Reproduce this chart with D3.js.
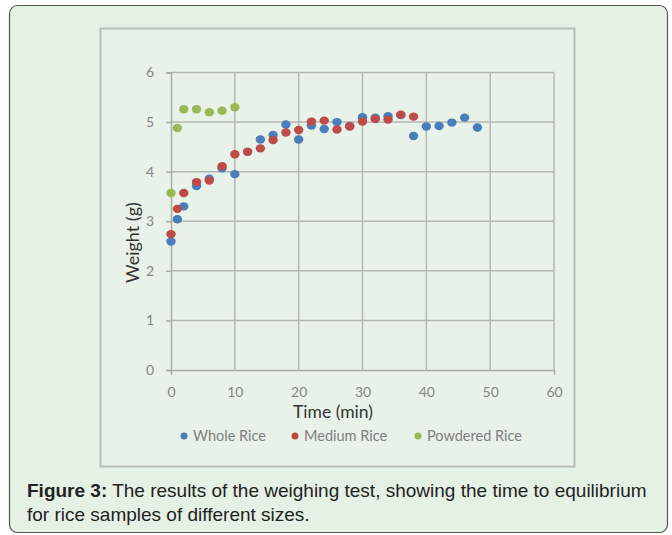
<!DOCTYPE html>
<html>
<head>
<meta charset="utf-8">
<script src="https://cdn.jsdelivr.net/npm/d3@7"></script>
<style>
  body { margin: 0; background: #fff; }
  svg { display: block; }
</style>
</head>
<body>
<script>
// weighing test data: time (min) vs weight (g)
const wholeTime = [0, 1, 2, 4, 6, 8, 10, 12, 14, 16, 18, 20, 22, 24, 26, 28, 30, 32, 34, 36, 38, 40, 42, 44, 46, 48];
const wholeWeight = [2.59, 3.04, 3.30, 3.71, 3.86, 4.07, 3.95, 4.40, 4.65, 4.74, 4.95, 4.65, 4.93, 4.86, 5.00, 4.92, 5.10, 5.09, 5.12, 5.14, 4.72, 4.91, 4.92, 4.99, 5.09, 4.89];
const mediumTime = [0, 1, 2, 4, 6, 8, 10, 12, 14, 16, 18, 20, 22, 24, 26, 28, 30, 32, 34, 36, 38];
const mediumWeight = [2.74, 3.25, 3.57, 3.79, 3.82, 4.11, 4.35, 4.40, 4.47, 4.64, 4.79, 4.84, 5.01, 5.03, 4.85, 4.91, 5.01, 5.06, 5.05, 5.15, 5.11];
const powderTime = [0, 1, 2, 4, 6, 8, 10];
const powderWeight = [3.57, 4.88, 5.26, 5.26, 5.20, 5.23, 5.30];

const seriesNames = ["Whole Rice", "Medium Rice", "Powdered Rice"];
const seriesColors = ["#4a7ebb", "#be4b48", "#98b954"];
const xTicks = [0, 10, 20, 30, 40, 50, 60];
const yTicks = [0, 1, 2, 3, 4, 5, 6];

const width = 672;
const height = 535;
const chartFont = "Lato, 'Open Sans', sans-serif";

const svg = d3.select("body").append("svg")
  .attr("width", width)
  .attr("height", height);

// outer panel
svg.append("rect")
  .attr("x", 9.5).attr("y", 5.5)
  .attr("width", 658).attr("height", 527)
  .attr("rx", 8)
  .attr("fill", "#e6f1e6")
  .attr("stroke", "#555")
  .attr("stroke-width", 1.2);

// chart frame
svg.append("rect")
  .attr("x", 100.5).attr("y", 28.5)
  .attr("width", 474).attr("height", 438)
  .attr("fill", "#e8f2e8")
  .attr("stroke", "#b8bcb6")
  .attr("stroke-width", 2);

const x = d3.scaleLinear().domain([0, 60]).range([171, 554]);
const y = d3.scaleLinear().domain([0, 6]).range([370, 72.5]);

// grid
svg.append("g").selectAll("line").data(yTicks.slice(1)).enter().append("line")
  .attr("x1", x(0)).attr("x2", x(60))
  .attr("y1", d => y(d)).attr("y2", d => y(d))
  .attr("stroke", "#b3b8b0").attr("stroke-width", 1.5);
svg.append("g").selectAll("line").data(xTicks.slice(1)).enter().append("line")
  .attr("x1", d => x(d)).attr("x2", d => x(d))
  .attr("y1", y(0)).attr("y2", y(6))
  .attr("stroke", "#b3b8b0").attr("stroke-width", 1.5);

// axes
const xAxis = d3.axisBottom(x).tickValues(xTicks).tickSize(5).tickPadding(12).tickFormat(d3.format("d"));
const yAxis = d3.axisLeft(y).tickValues(yTicks).tickSize(5).tickPadding(12).tickFormat(d3.format("d"));

const gx = svg.append("g").attr("transform", `translate(0,${y(0)})`).call(xAxis);
const gy = svg.append("g").attr("transform", `translate(${x(0)},0)`).call(yAxis);
[gx, gy].forEach(g => {
  g.select(".domain").attr("stroke", "#a7aca4").attr("stroke-width", 1.5);
  g.selectAll(".tick line").attr("stroke", "#a7aca4").attr("stroke-width", 1.5);
  g.selectAll(".tick text")
    .attr("fill", "#858585")
    .style("font-family", chartFont)
    .style("font-size", "14px");
});
gx.selectAll(".tick line").attr("y2", 0);

// axis titles
svg.append("text")
  .attr("x", 333).attr("y", 418)
  .attr("text-anchor", "middle")
  .style("font-family", chartFont)
  .style("font-size", "17.5px")
  .attr("fill", "#333")
  .text("Time (min)");
svg.append("text")
  .attr("transform", `translate(139,${y(2.57)}) rotate(-90)`)
  .attr("text-anchor", "middle")
  .style("font-family", chartFont)
  .style("font-size", "18px")
  .attr("fill", "#333")
  .text("Weight (g)");

// points
const series = [
  { name: seriesNames[0], color: seriesColors[0], data: wholeTime.map((t, i) => [t, wholeWeight[i]]) },
  { name: seriesNames[1], color: seriesColors[1], data: mediumTime.map((t, i) => [t, mediumWeight[i]]) },
  { name: seriesNames[2], color: seriesColors[2], data: powderTime.map((t, i) => [t, powderWeight[i]]) }
];

series.forEach(s => {
  svg.append("g").selectAll("ellipse").data(s.data).enter().append("ellipse")
    .attr("cx", d => x(d[0]))
    .attr("cy", d => y(d[1]))
    .attr("rx", 4.7).attr("ry", 4.2)
    .attr("fill", s.color);
});

// legend
const legendX = [184, 295, 418];
const legend = svg.append("g").selectAll("g").data(series).enter().append("g")
  .attr("transform", (d, i) => `translate(${legendX[i]},436)`);
legend.append("circle").attr("r", 3.5).attr("fill", d => d.color);
legend.append("text")
  .attr("x", 9).attr("dy", "0.35em")
  .style("font-family", chartFont)
  .style("font-size", "14.5px")
  .attr("fill", "#7f7f7f")
  .text(d => d.name);

// caption
const capFont = "'Liberation Sans', Arial, sans-serif";
const cap = svg.append("text")
  .attr("x", 27).attr("y", 497)
  .style("font-family", capFont)
  .style("font-size", "19px")
  .attr("fill", "#222");
cap.append("tspan").style("font-weight", "bold").text("Figure 3:");
cap.append("tspan").text(" The results of the weighing test, showing the time to equilibrium");
svg.append("text")
  .attr("x", 27).attr("y", 521)
  .style("font-family", capFont)
  .style("font-size", "19px")
  .attr("fill", "#222")
  .text("for rice samples of different sizes.");
</script>
</body>
</html>
